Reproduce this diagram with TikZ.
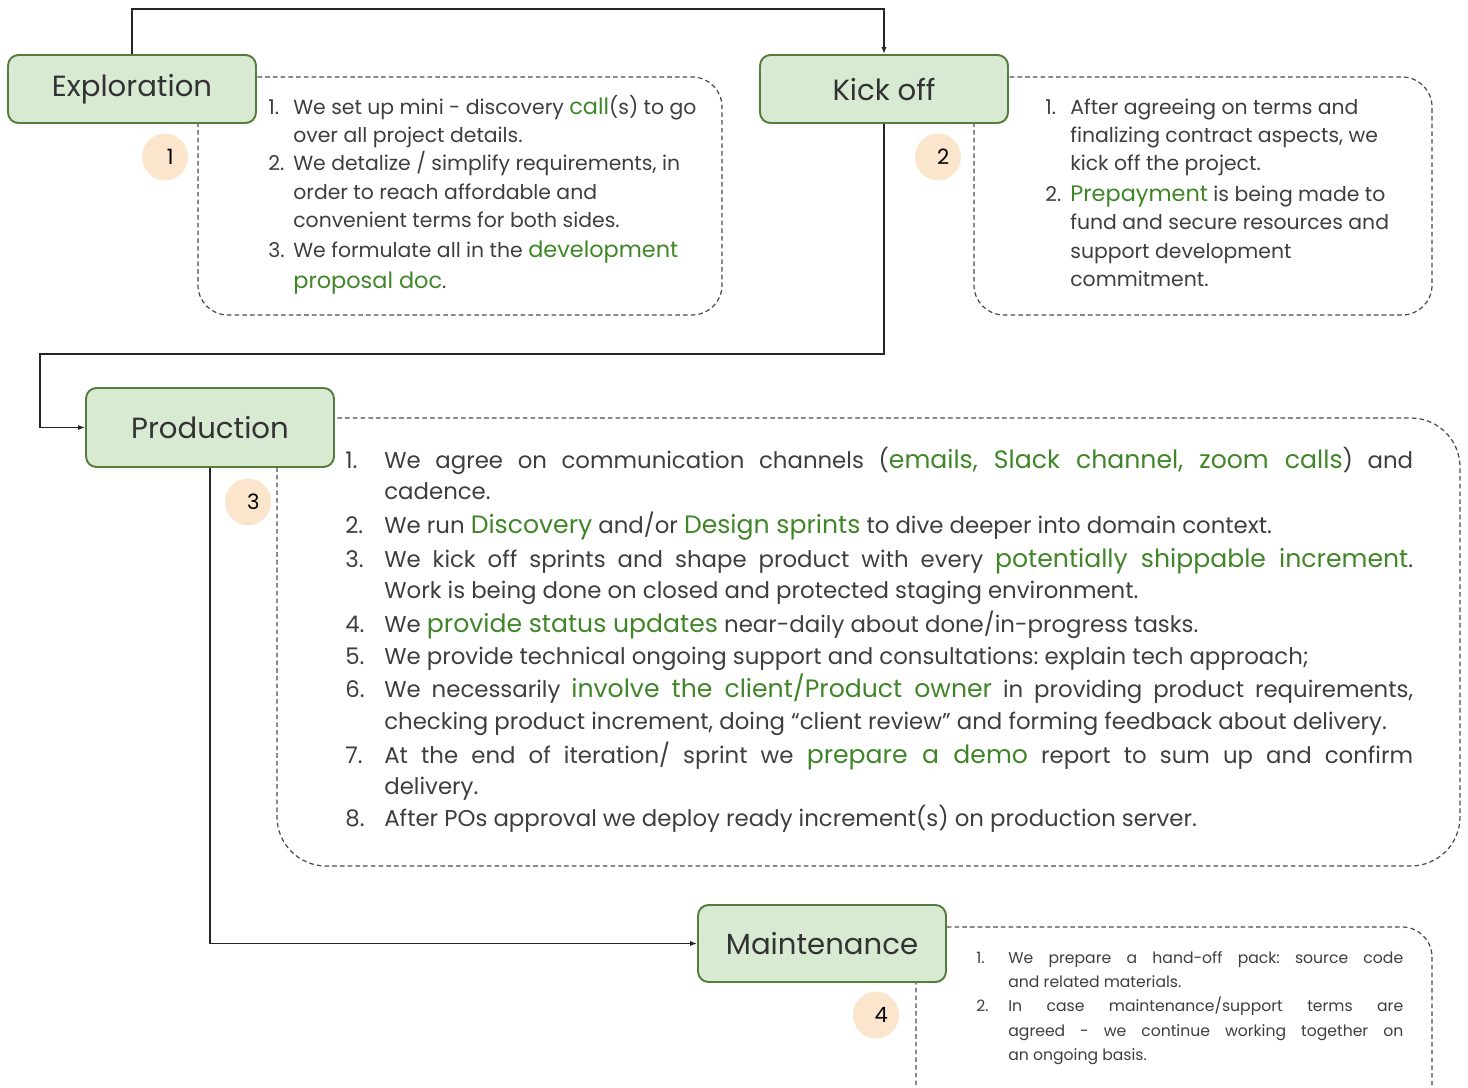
\documentclass[tikz,border=0pt]{standalone}
\usepackage{fontspec}
\setmainfont{Poppins}
\usepackage{xcolor}
\usepackage{tikz}
\usetikzlibrary{shapes, arrows.meta, positioning, calc}
\definecolor{stagefill}{RGB}{217, 234, 211}
\definecolor{stageline}{RGB}{84, 124, 60}
\definecolor{notegreen}{RGB}{64, 134, 40}
\definecolor{textgray}{RGB}{62, 62, 62}
\definecolor{peach}{RGB}{252, 229, 205}
\definecolor{dashgray}{RGB}{75, 75, 75}
\frenchspacing
% green highlights are set a little larger than the running text
\makeatletter
\newcommand{\grn}[1]{{\color{notegreen}\fontsize{\strip@pt\dimexpr1.1\dimexpr\f@size pt\relax\relax}{\f@baselineskip}\selectfont #1}}
\makeatother

\begin{document}
\begin{tikzpicture}[x=0.02cm, y=-0.02cm,
  stage/.style={draw=stageline, line width=1.1pt, fill=stagefill, rounded corners=6pt,
    minimum width=4.96cm, minimum height=1.36cm, inner sep=0pt, text=black!80,
    font=\fontsize{16.6}{18}\selectfont},
  badge/.style={ellipse, fill=peach, minimum width=0.92cm, minimum height=0.94cm,
    inner sep=0pt, font=\fontsize{12}{14}\selectfont},
  notebox/.style={draw=dashgray, line width=0.7pt, dash pattern=on 2.6pt off 1.8pt},
  flow/.style={draw=black!85, line width=1pt, -{Latex[length=4pt, width=3pt]}},
  txt/.style={anchor=base west, inner sep=0pt, text=textgray},
  txtM/.style={txt, font=\fontsize{11.6}{13}\selectfont},
  txtL/.style={txt, font=\fontsize{13}{15}\selectfont},
  txtS/.style={txt, font=\fontsize{8.9}{10}\selectfont}]
  \useasboundingbox (0,0) rectangle (1468,1088);

  % ---- Dashed note frames (behind the stages) ----
  \draw[notebox, rounded corners=17pt] (198,77) rectangle (722,315);
  \draw[notebox, rounded corners=17pt] (974,77) rectangle (1432,315);
  \draw[notebox, rounded corners=28pt] (277,418) rectangle (1460,866);
  \draw[notebox, rounded corners=17pt] (916,927) rectangle (1432,1120);

  % ---- Stages ----
  \node[stage] (explore) at (132,89) {Exploration};
  \node[stage] (kickoff) at (884,89) {Kick off};
  \node[stage, minimum height=1.58cm] (prod) at (210,427.5) {Production};
  \node[stage, minimum height=1.54cm] (maint) at (822,943.5) {Maintenance};

  % ---- Badges ----
  \node[badge] (b1) at (165,157) {\kern6pt 1};
  \node[badge] (b2) at (938,157) {\kern6pt 2};
  \node[badge] (b3) at (248,502) {\kern6pt 3};
  \node[badge] (b4) at (876,1015) {\kern6pt 4};

  % ---- Flow ----
  \coordinate (topbend) at (132,9);
  \coordinate (midbend) at (40,354);
  \draw[flow] (explore.north) -- (topbend) -| (kickoff.north);
  \draw[flow] (kickoff.south) |- (midbend) |- (prod.west);
  \draw[flow] (prod.south) |- (maint.west);

  % ---- Exploration notes ----
  \node[txtM] (e1a) at (268,114) {\makebox[0.5cm][l]{1.}We set up mini - discovery \grn{call}(s) to go};
  \node[txtM] (e1b) at (293,143) {over all project details.};
  \node[txtM] (e2a) at (268,171) {\makebox[0.5cm][l]{2.}We detalize / simplify requirements, in};
  \node[txtM] (e2b) at (293,199) {order to reach affordable and};
  \node[txtM] (e2c) at (293,227) {convenient terms for both sides.};
  \node[txtM] (e3a) at (268,257) {\makebox[0.5cm][l]{3.}We formulate all in the \grn{development}};
  \node[txtM] (e3b) at (293,288) {\grn{proposal doc}.};

  % ---- Kick off notes ----
  \node[txtM] (k1a) at (1045,115) {\makebox[0.5cm][l]{1.}After agreeing on terms and};
  \node[txtM] (k1b) at (1070,143) {finalizing contract aspects, we};
  \node[txtM] (k1c) at (1070,171) {kick off the project.};
  \node[txtM] (k2a) at (1045,201) {\makebox[0.5cm][l]{2.}\grn{Prepayment} is being made to};
  \node[txtM] (k2b) at (1070,230) {fund and secure resources and};
  \node[txtM] (k2c) at (1070,258) {support development};
  \node[txtM] (k2d) at (1070,286) {commitment.};

  % ---- Production notes ----
  \node[txtL] (p1a) at (345,468) {\makebox[0.78cm][l]{1.}\makebox[20.58cm][s]{We agree on communication channels (\grn{emails, Slack channel, zoom calls}) and}};
  \node[txtL] (p1b) at (384,499) {cadence.};
  \node[txtL] (p2a) at (345,533) {\makebox[0.78cm][l]{2.}We run \grn{Discovery} and/or \grn{Design sprints} to dive deeper into domain context.};
  \node[txtL] (p3a) at (345,567) {\makebox[0.78cm][l]{3.}\makebox[20.58cm][s]{We kick off sprints and shape product with every \grn{potentially shippable increment}.}};
  \node[txtL] (p3b) at (384,598) {Work is being done on closed and protected staging environment.};
  \node[txtL] (p4a) at (345,632) {\makebox[0.78cm][l]{4.}We \grn{provide status updates} near-daily about done/in-progress tasks.};
  \node[txtL] (p5a) at (345,664) {\makebox[0.78cm][l]{5.}We provide technical ongoing support and consultations: explain tech approach;};
  \node[txtL] (p6a) at (345,697) {\makebox[0.78cm][l]{6.}\makebox[20.58cm][s]{We necessarily \grn{involve the client/Product owner} in providing product requirements,}};
  \node[txtL] (p6b) at (384,729) {checking product increment, doing “client review” and forming feedback about delivery.};
  \node[txtL] (p7a) at (345,763) {\makebox[0.78cm][l]{7.}\makebox[20.58cm][s]{At the end of iteration/ sprint we \grn{prepare a demo} report to sum up and confirm}};
  \node[txtL] (p7b) at (384,794) {delivery.};
  \node[txtL] (p8a) at (345,826) {\makebox[0.78cm][l]{8.}After POs approval we deploy ready increment(s) on production server.};

  % ---- Maintenance notes ----
  \node[txtS] (m1a) at (976,963) {\makebox[0.64cm][l]{1.}\makebox[7.9cm][s]{We prepare a hand-off pack: source code}};
  \node[txtS] (m1b) at (1008,987) {and related materials.};
  \node[txtS] (m2a) at (976,1011) {\makebox[0.64cm][l]{2.}\makebox[7.9cm][s]{In case maintenance/support terms are}};
  \node[txtS] (m2b) at (1008,1036) {\makebox[7.9cm][s]{agreed - we continue working together on}};
  \node[txtS] (m2c) at (1008,1060) {an ongoing basis.};
\end{tikzpicture}
\end{document}
